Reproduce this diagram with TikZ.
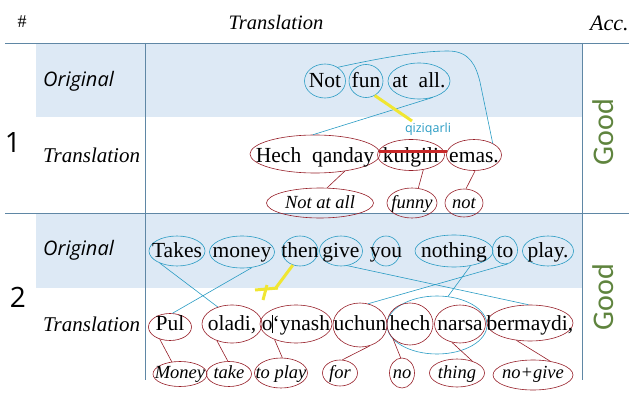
\documentclass[tikz,border=0pt]{standalone}
\usepackage{fontspec}
\setmainfont{Liberation Serif}
\newfontfamily\osans{Open Sans}
\newfontfamily\carl{Carlito}
\usetikzlibrary{shapes.geometric,calc}
\definecolor{cblue}{RGB}{40,155,195}
\definecolor{cred}{RGB}{150,30,40}
\definecolor{cgrid}{RGB}{95,135,165}
\definecolor{cshade}{RGB}{221,233,245}
\definecolor{cyel}{RGB}{240,230,50}
\definecolor{cstrike}{RGB}{200,40,40}
\definecolor{cgood}{RGB}{95,132,62}
\tikzset{
  eb/.style={ellipse,draw=cblue,line width=0.6pt,inner sep=0pt},
  er/.style={ellipse,draw=cred,line width=0.6pt,inner sep=0pt},
  wtxt/.style={font=\fontsize{21.5}{21.5}\selectfont,inner sep=0pt,anchor=base},
  gtxt/.style={font=\fontsize{18.5}{18.5}\selectfont\itshape,inner sep=0pt,anchor=base},
  lb/.style={draw=cblue,line width=0.6pt},
  lr/.style={draw=cred,line width=0.6pt},
  yl/.style={draw=cyel,line width=3pt},
  gridline/.style={draw=cgrid,line width=0.7pt},
  rowlab/.style={font=\osans\itshape\fontsize{20}{20}\selectfont,anchor=west,inner sep=0pt},
  rowlabs/.style={font=\itshape\fontsize{21}{21}\selectfont,anchor=west,inner sep=0pt},
  numlab/.style={font=\osans\fontsize{28}{28}\selectfont,inner sep=0pt},
  goodlab/.style={font=\carl\fontsize{30}{30}\selectfont,text=cgood,rotate=90,inner sep=0pt},
}
\newcommand\rowbl{0}
\newcommand\wel[8]{%
  \node[#1,minimum width=#6pt,minimum height=#7pt] (#3) at (#4,#5) {};
  \node[#2] (#3-t) at (#4,\rowbl) {#8};}
\begin{document}
\begin{tikzpicture}[x=1pt,y=-1pt]
\useasboundingbox (0,0) rectangle (629,409);
\clip (0,0) rectangle (629,409);
% shading
\fill[cshade] (36,43) rectangle (582,117);
\fill[cshade] (36,213) rectangle (582,288);
% grid
\draw[gridline] (5,43) -- (629,43);
\draw[gridline] (5,213) -- (629,213);
\draw[gridline] (145,43) -- (145,380);
\draw[gridline] (582,43) -- (582,380);
% header
\node[font=\fontsize{18}{18}\selectfont,inner sep=0pt] (hhash) at (22,22) {\#};
\node[font=\itshape\fontsize{20.5}{20.5}\selectfont,inner sep=0pt] (htr) at (276,22) {Translation};
\node[font=\itshape\fontsize{22}{22}\selectfont,inner sep=0pt,anchor=west] (hacc) at (590,23) {Acc.};
% row labels
\node[rowlab] (o1) at (43,81) {Original};
\node[rowlabs] (t1) at (43,155) {Translation};
\node[rowlab] (o2) at (43,250) {Original};
\node[rowlabs] (t2) at (43,324) {Translation};
\node[numlab] (n1) at (13,143) {1};
\node[numlab] (n2) at (18,297) {2};
\node[goodlab] (g1) at (603,132) {Good};
\node[goodlab] (g2) at (603,297) {Good};
% ---- row 1 original
\renewcommand\rowbl{88}
\wel{eb}{wtxt}{not}{325}{81}{41}{34}{Not}
\wel{eb}{wtxt}{fun}{366}{81}{34}{33}{fun}
\wel{eb}{wtxt}{atall}{419}{81}{62}{36}{at\ \ all.}
% ---- row 1 translation
\renewcommand\rowbl{162}
\wel{er}{wtxt}{hq}{315}{154}{130}{38}{Hech\ \ qanday}
\wel{er}{wtxt}{kul}{411}{155}{67}{31}{kulgili}
\wel{er}{wtxt}{emas}{474}{155}{55}{31}{emas.}
% ---- row 1 gloss
\renewcommand\rowbl{208}
\wel{er}{gtxt}{nal}{320}{203}{107}{30}{Not at all}
\wel{er}{gtxt}{funny}{412}{203}{50}{30}{funny}
\wel{er}{gtxt}{notg}{464}{203}{38}{28}{not}
% strike
\draw[draw=cstrike,line width=3pt] ($(kul.west)+(2,-3)$) -- ($(kul.east)+(2,-3)$);
% row 1 connectors
\draw[lr] (hq.-30) -- (nal.65);
\draw[lr] (kul.-50) -- (funny.67);
\draw[lr] (emas.-86) -- (notg.82);
\draw[lb] (atall.-50) -- (hq.96);
\draw[lb] (not.47) .. controls (380,58) and (420,51) .. (448,51) .. controls (470,51) and (476,66) .. (480,82) -- (emas.32);
\coordinate (y1end) at (412,121);
\draw[yl] (fun.-59) -- (y1end);
\node[font=\osans\fontsize{12.5}{12.5}\selectfont,text=cblue,inner sep=0pt] (qiz) at (428,129) {qiziqarli};
% ---- row 2 original
\renewcommand\rowbl{257}
\wel{eb}{wtxt}{takes}{177}{251}{56}{30}{Takes}
\wel{eb}{wtxt}{money}{242}{252}{65}{32}{money}
\wel{eb}{wtxt}{then}{300}{251}{36}{30}{then}
\wel{eb}{wtxt}{give}{341}{251}{43}{30}{give}
\wel{eb}{wtxt}{you}{386}{251}{28}{30}{you}
\wel{eb}{wtxt}{nothing}{454}{251}{78}{32}{nothing}
\wel{eb}{wtxt}{to}{505}{250}{25}{28}{to}
\wel{eb}{wtxt}{play}{548}{251}{51}{30}{play.}
% ---- row 2 translation
\renewcommand\rowbl{330}
\node[eb,minimum width=100pt,minimum height=58pt] (hn) at (437,325) {};
\wel{er}{wtxt}{pul}{170}{327}{43}{27}{Pul}
\wel{er}{wtxt}{oladi}{232}{324}{60}{38}{oladi,}
\wel{er}{wtxt}{oynash}{296}{324}{72}{38}{o\makebox[0pt]{\rule[-3pt]{0.6pt}{18pt}}‘ynash}
\wel{er}{wtxt}{uchun}{360}{325}{54}{44}{uchun}
\wel{er}{wtxt}{hech}{410}{324}{46}{42}{hech}
\wel{er}{wtxt}{narsa}{460}{324}{51}{38}{narsa}
\wel{er}{wtxt}{berm}{530}{323}{86}{36}{bermaydi,}
% ---- row 2 gloss
\renewcommand\rowbl{378}
\wel{er}{gtxt}{gmoney}{180}{374}{54}{25}{Money}
\wel{er}{gtxt}{gtake}{229}{374}{45}{25}{take}
\wel{er}{gtxt}{gtoplay}{281}{373}{53}{30}{to play}
\wel{er}{gtxt}{gfor}{340}{373}{35}{26}{for}
\wel{er}{gtxt}{gno}{402}{373}{25}{30}{no}
\wel{er}{gtxt}{gthing}{457}{373}{55}{28}{thing}
\wel{er}{gtxt}{gnogive}{533}{375}{80}{30}{no+give}
% row 2 red connectors
\draw[lr] (pul.-130) -- (gmoney.124);
\draw[lr] (oladi.-132) -- (gtake.95);
\draw[lr] (oynash.-144) -- (gtoplay.85);
\draw[lr] (uchun.-64) -- (gfor.80);
\draw[lr] (hech.-140) -- (gno.95);
\draw[lr] (narsa.-114) -- (gthing.38);
\draw[lr] (berm.-128) -- (gnogive.39);
% row 2 blue connectors
\draw[lb] (takes.-145) -- (oladi.130);
\draw[lb] (money.-57) -- (pul.80);
\draw[lb] (give.-67) -- (berm.95);
\draw[lb] (to.-80) -- (uchun.69);
\draw[lb] (nothing.-42) -- (hn.69);
% yellow plus
\coordinate (y2end) at (275,289);
\coordinate (ph1) at (255,290);
\coordinate (ph2) at (278,288);
\coordinate (pv1) at (267,285);
\coordinate (pv2) at (263,300);
\draw[yl] (then.-117) -- (y2end);
\draw[yl] (ph1) -- (ph2);
\draw[yl] (pv1) -- (pv2);
\end{tikzpicture}
\end{document}
